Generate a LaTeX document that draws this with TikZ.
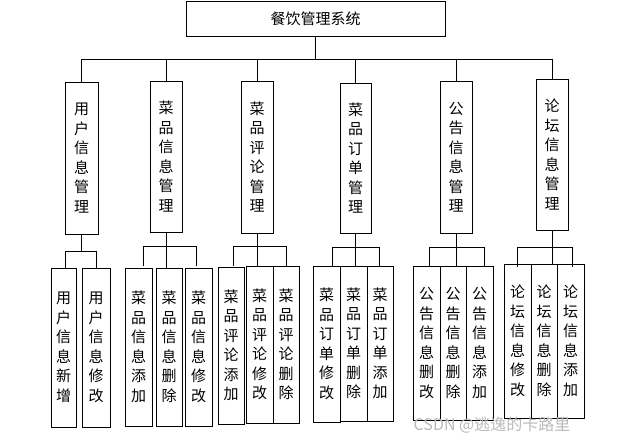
\documentclass[tikz,border=0pt]{standalone}
\usepackage{fontspec}
\newfontfamily\cjk{Noto Sans CJK SC}
\begin{document}
\begin{tikzpicture}[x=1pt,y=-1pt,line width=0.7pt,
  box/.style={draw,rectangle,inner sep=0pt,font=\cjk\fontsize{15}{19.5}\selectfont,align=center},
  wm/.style={text=gray!55,font=\cjk\fontsize{16}{16}\selectfont}]
\useasboundingbox (0,0) rectangle (618,443);
\newcommand\bx[6]{\node[box,minimum width=#3-#2,minimum height=#5-#4] (#1) at ({(#2+#3)/2},{(#4+#5)/2}) {#6};}
\bx{top}{186}{445}{1}{36}{餐饮管理系统}
\coordinate (bus) at (0,59);
\bx{A}{65}{98}{82}{234}{用\\户\\信\\息\\管\\理}
\bx{B}{150}{182}{81}{232}{菜\\品\\信\\息\\管\\理}
\bx{C}{241}{273}{81}{233}{菜\\品\\评\\论\\管\\理}
\bx{D}{340}{371}{83}{233}{菜\\品\\订\\单\\管\\理}
\bx{E}{440}{472}{81}{233}{公\\告\\信\\息\\管\\理}
\bx{F}{536}{568}{79}{230}{论\\坛\\信\\息\\管\\理}
\draw (top.south) -- (top.south |- bus);
\draw (A.north |- bus) -- (F.north |- bus);
\foreach \n in {A,B,C,D,E,F} \draw (\n.north) -- (\n.north |- bus);
% leaves
\bx{A1}{51}{76}{268}{427}{用\\户\\信\\息\\新\\增}
\bx{A2}{82}{110}{268}{427}{用\\户\\信\\息\\修\\改}
\bx{B1}{125}{152}{268}{426}{菜\\品\\信\\息\\添\\加}
\bx{B2}{156}{182}{268}{426}{菜\\品\\信\\息\\删\\除}
\bx{B3}{185}{212}{268}{426}{菜\\品\\信\\息\\修\\改}
\bx{C1}{218}{244}{267}{424}{菜\\品\\评\\论\\添\\加}
\bx{C2}{246}{273}{266}{423}{菜\\品\\评\\论\\修\\改}
\bx{C3}{273}{299}{266}{423}{菜\\品\\评\\论\\删\\除}
\bx{D1}{313}{340}{266}{422}{菜\\品\\订\\单\\修\\改}
\bx{D2}{340}{367}{266}{421}{菜\\品\\订\\单\\删\\除}
\bx{D3}{367}{393}{266}{421}{菜\\品\\订\\单\\添\\加}
\bx{E1}{413}{440}{266}{420}{公\\告\\信\\息\\删\\改}
\bx{E2}{440}{466}{266}{420}{公\\告\\信\\息\\删\\除}
\bx{E3}{466}{493}{266}{420}{公\\告\\信\\息\\添\\加}
\bx{F1}{504}{531}{264}{418}{论\\坛\\信\\息\\修\\改}
\bx{F2}{531}{557}{264}{418}{论\\坛\\信\\息\\删\\除}
\bx{F3}{557}{584}{264}{418}{论\\坛\\信\\息\\添\\加}
% branches
\draw (A.south) -- (A.south |- 0,251);
\draw (65,268) |- (96,251) -- (96,268);
\foreach \p/\y/\l/\r in {B/246/143/196, C/246/233/286, D/247/332/379, E/247/429/484, F/247/517/572}{
  \draw (\p.south) -- (\p.south |- \p2.north);
  \draw (\l,\y+20) |- (\r,\y) -- (\r,\y+20);
}
\node[wm,anchor=west] (wmk) at (410,425) {CSDN @逃逸的卡路里};
\end{tikzpicture}
\end{document}
